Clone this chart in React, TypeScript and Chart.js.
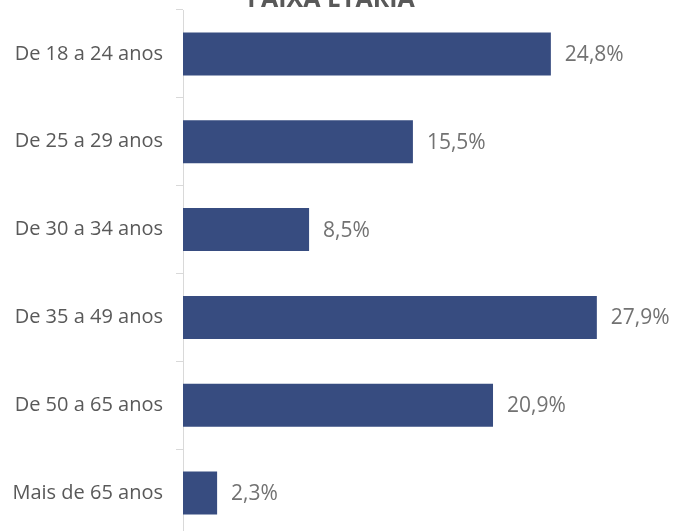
import React, { useEffect, useRef } from "react";
import { Chart, registerables } from "chart.js";

Chart.register(...registerables);

const title = "FAIXA ETÁRIA";
const categories = [
  "De 18 a 24 anos",
  "De 25 a 29 anos",
  "De 30 a 34 anos",
  "De 35 a 49 anos",
  "De 50 a 65 anos",
  "Mais de 65 anos",
];
const values = [24.8, 15.5, 8.5, 27.9, 20.9, 2.3];

const OFFSET = 40;
const FONT = "'Open Sans'";

export default function App() {
  const ref = useRef<HTMLCanvasElement | null>(null);
  useEffect(() => {
    if (!ref.current) return;
    const labelPlugin = {
      id: "valueLabels",
      afterDatasetsDraw(chart: any) {
        const ctx = chart.ctx;
        const meta = chart.getDatasetMeta(0);
        ctx.save();
        ctx.font = "21px " + FONT;
        ctx.fillStyle = "#727272";
        ctx.textAlign = "left";
        ctx.textBaseline = "middle";
        meta.data.forEach((el: any, i: number) => {
          const txt = values[i].toFixed(1).replace(".", ",") + "%";
          ctx.fillText(txt, el.x + 14, el.y + 1);
        });
        // title
        ctx.font = "bold 25px " + FONT;
        ctx.fillStyle = "#595959";
        ctx.textAlign = "center";
        ctx.textBaseline = "alphabetic";
        ctx.fillText(title, 331, OFFSET + 7);
        ctx.restore();
      },
    };
    const chart = new Chart(ref.current, {
      type: "bar",
      data: {
        labels: categories,
        datasets: [
          {
            data: values,
            backgroundColor: "#374C80",
            categoryPercentage: 1,
            barPercentage: 0.49,
          },
        ],
      },
      options: {
        indexAxis: "y",
        animation: false,
        responsive: true,
        maintainAspectRatio: false,
        layout: { padding: { top: OFFSET + 10, bottom: 13, left: 0, right: 46 } },
        plugins: { legend: { display: false }, tooltip: { enabled: false }, title: { display: false } },
        scales: {
          x: { display: false, min: 0, max: 30 },
          y: {
            afterFit: (s: any) => {
              s.width = 183;
              s.paddingTop = 0;
              s.paddingBottom = 0;
            },
            border: { color: "#d9d9d9", width: 1 },
            grid: { drawOnChartArea: false, color: "#d9d9d9", tickLength: 7, offset: true },
            ticks: { color: "#595959", font: { family: "Open Sans", size: 20 }, padding: 13 },
          },
        },
      },
      plugins: [labelPlugin],
    });
    return () => chart.destroy();
  }, []);
  return (
    <div style={{ position: "absolute", left: 0, top: 0, width: 674, height: 531, overflow: "hidden", background: "#fff" }}>
      <div style={{ position: "absolute", left: 0, top: -OFFSET, width: 674, height: 590 }}>
        <canvas ref={ref} />
      </div>
    </div>
  );
}
